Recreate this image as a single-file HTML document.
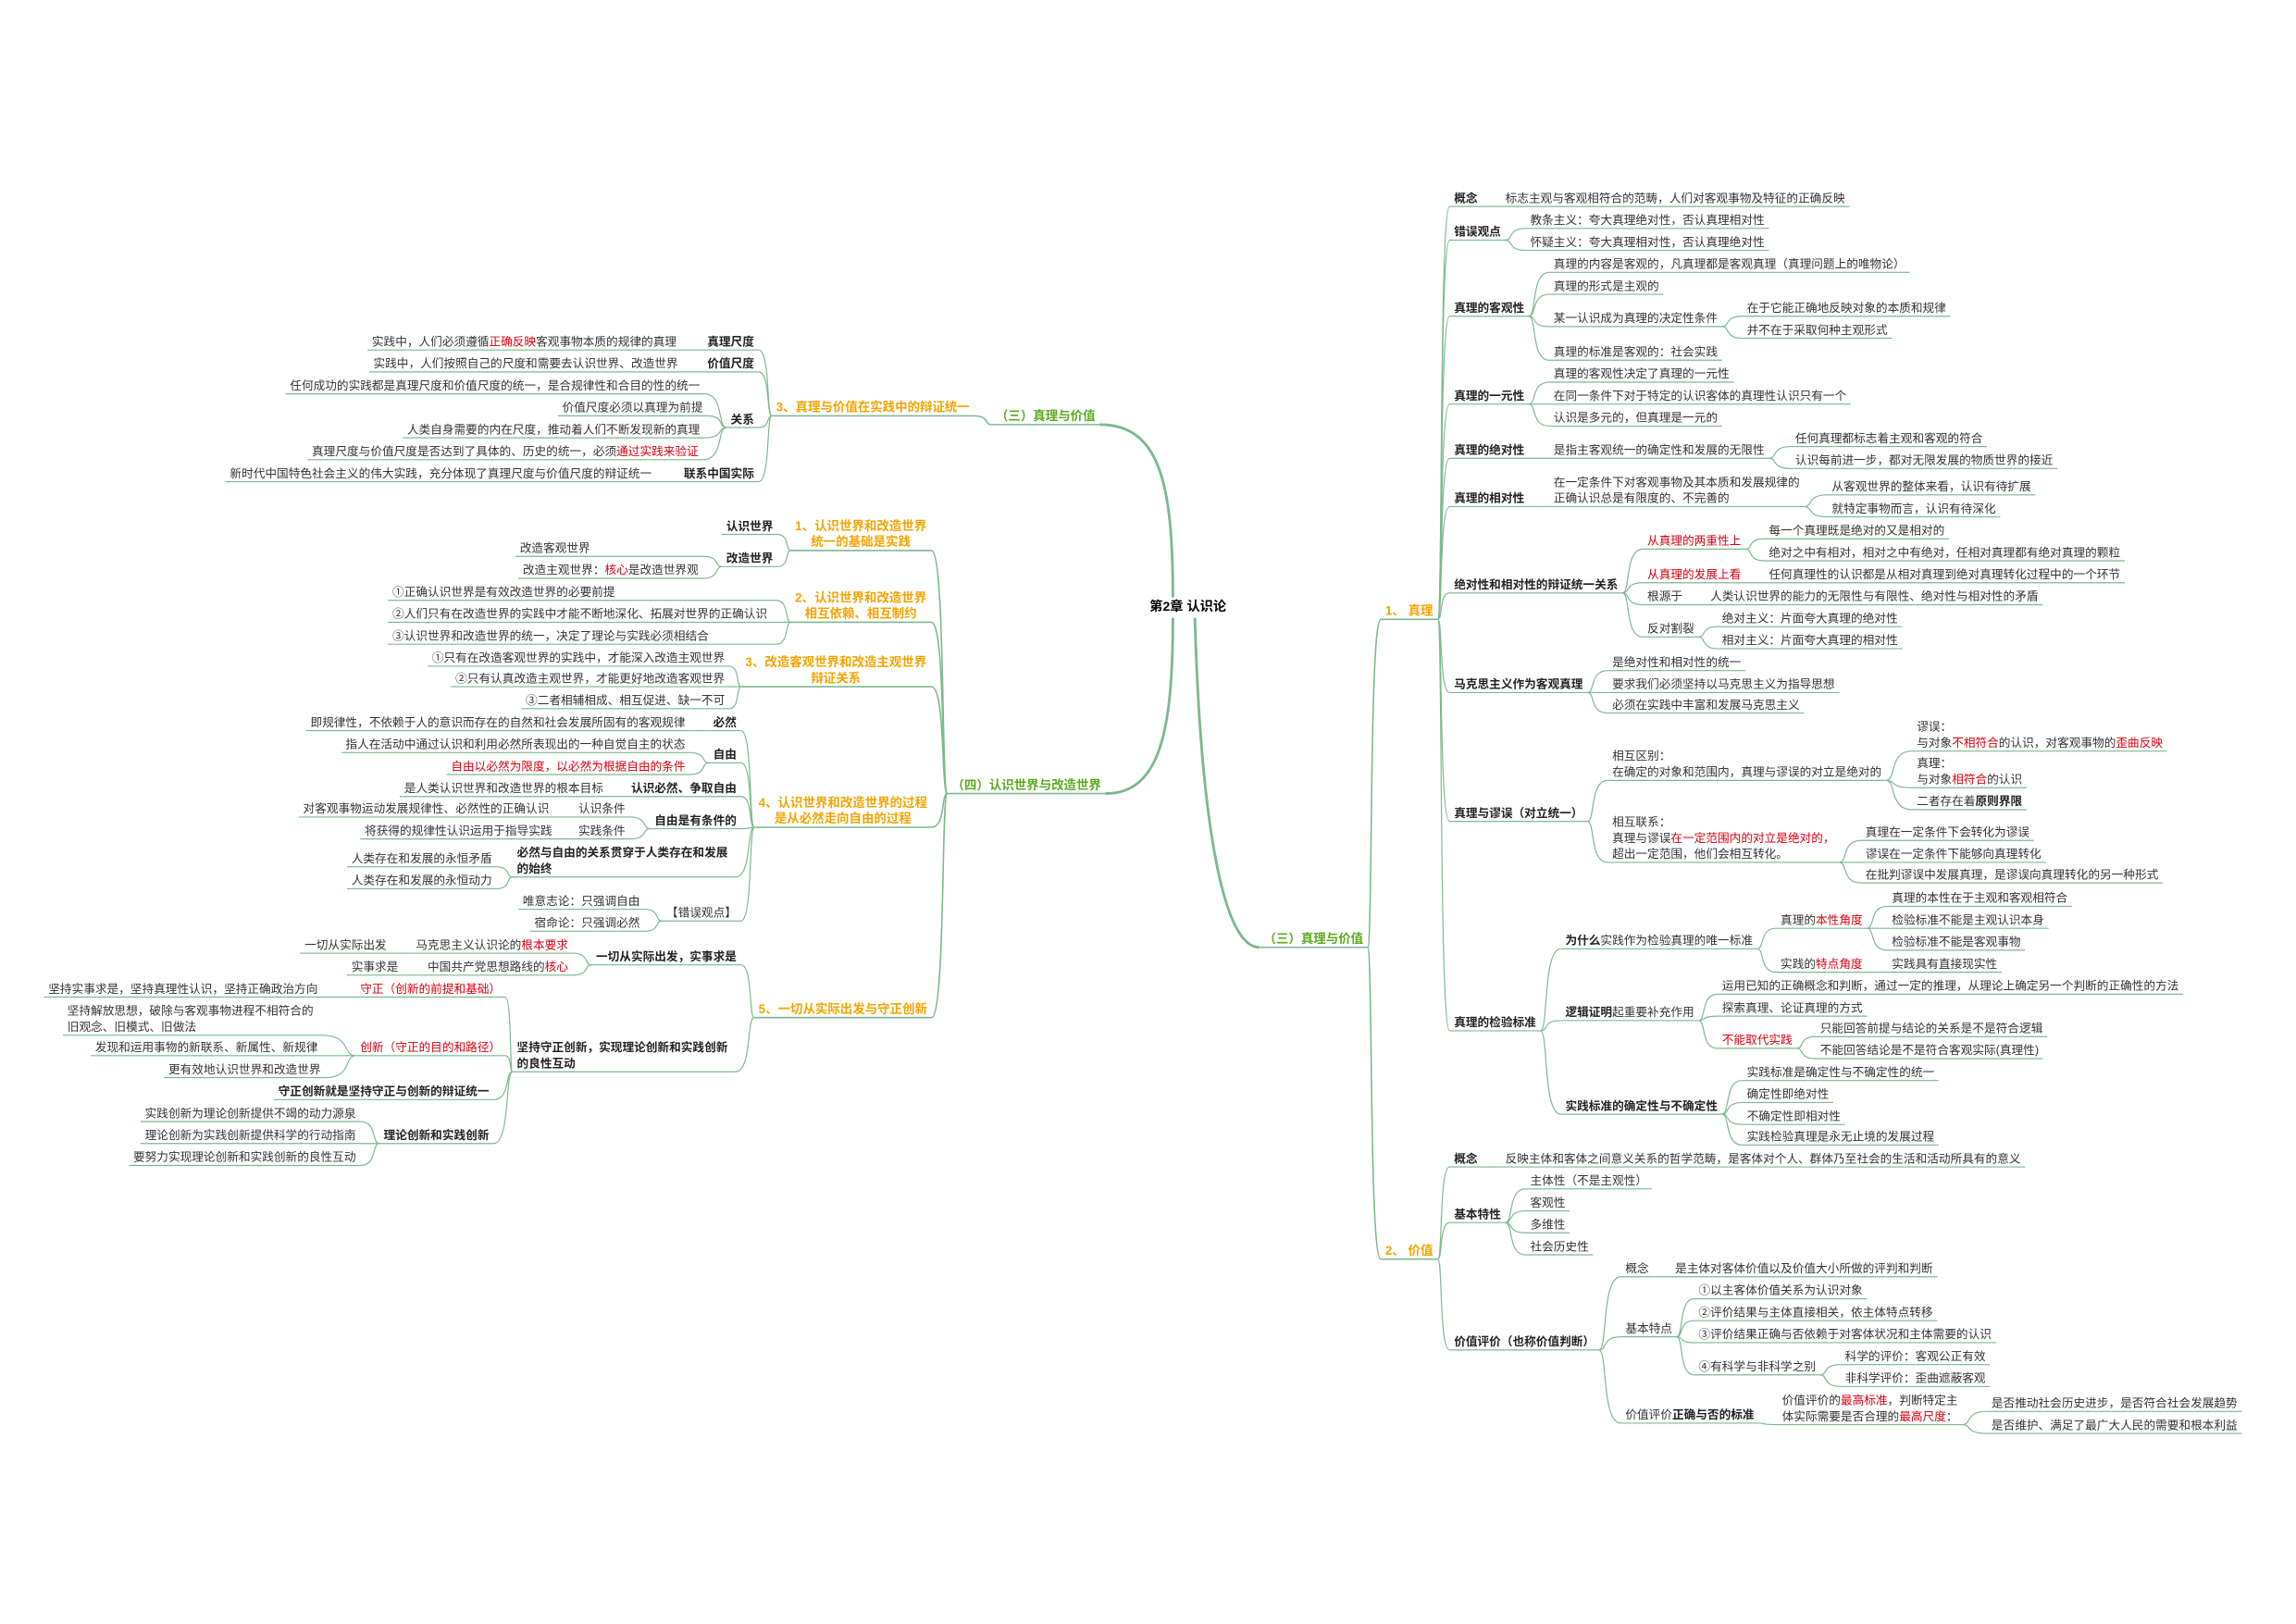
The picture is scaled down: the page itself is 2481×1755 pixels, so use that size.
<!DOCTYPE html>
<html><head><meta charset="utf-8">
<style>
html,body{margin:0;padding:0;background:#fff;}
body{width:2481px;height:1754px;overflow:hidden;position:relative;}
#s{position:absolute;left:0;top:0;width:1568px;height:1109px;transform:scale(1.58227);transform-origin:0 0;}
#s svg{position:absolute;left:0;top:0;overflow:visible;}
.n{position:absolute;white-space:nowrap;font-family:"Liberation Sans","Noto Sans CJK SC",sans-serif;font-size:8px;line-height:11px;color:#333;}
.b{font-weight:700;color:#222;}
.o{font-weight:700;color:#f5a300;font-size:8.5px;}
.g{font-weight:700;color:#5aab1e;font-size:8.5px;}
.c{font-weight:700;color:#000;font-size:9px;}
.ca{text-align:center;}
i{font-style:normal;color:#d9000f;}
em{font-style:normal;font-weight:700;color:#222;}
</style></head><body>
<div id="s"><svg id="sv" width="1568" height="1109"></svg>
<div class="n c" style="left:785px;top:409px;">第2章 认识论</div>
</div>
<script>
var D={},L=[];
function N(k,p,s,x,y,t,c,o){var d={k:k,p:p,s:s,x:x,y:y,t:t,c:c||'',o:o||{}};D[k]=d;L.push(d);}
/* ---------- RIGHT ---------- */
N('R3',null,'r',863,641,'（三）真理与价值','g');
N('T','R3','r',946,417,'1、 真理','o');
N('V','R3','r',946,854,'2、 价值','o');
N('t1','T','r',993,135,'概念','b');
N('t1a','t1','r',1028,135,'标志主观与客观相符合的范畴，人们对客观事物及特征的正确反映');
N('t2','T','r',993,158,'错误观点','b');
N('t2a','t2','r',1045,150,'教条主义：夸大真理绝对性，否认真理相对性');
N('t2b','t2','r',1045,165,'怀疑主义：夸大真理相对性，否认真理绝对性');
N('t3','T','r',993,210,'真理的客观性','b');
N('t3a','t3','r',1061,180,'真理的内容是客观的，凡真理都是客观真理（真理问题上的唯物论）');
N('t3b','t3','r',1061,195,'真理的形式是主观的');
N('t3c','t3','r',1061,217,'某一认识成为真理的决定性条件');
N('t3c1','t3c','r',1193,210,'在于它能正确地反映对象的本质和规律');
N('t3c2','t3c','r',1193,225,'并不在于采取何种主观形式');
N('t3d','t3','r',1061,240,'真理的标准是客观的：社会实践');
N('t4','T','r',993,270,'真理的一元性','b');
N('t4a','t4','r',1061,255,'真理的客观性决定了真理的一元性');
N('t4b','t4','r',1061,270,'在同一条件下对于特定的认识客体的真理性认识只有一个');
N('t4c','t4','r',1061,285,'认识是多元的，但真理是一元的');
N('t5','T','r',993,307,'真理的绝对性','b');
N('t5a','t5','r',1061,307,'是指主客观统一的确定性和发展的无限性');
N('t5a1','t5a','r',1226,299,'任何真理都标志着主观和客观的符合');
N('t5a2','t5a','r',1226,314,'认识每前进一步，都对无限发展的物质世界的接近');
N('t6','T','r',993,340,'真理的相对性','b');
N('t6a','t6','r',1061,329,'在一定条件下对客观事物及其本质和发展规律的<br>正确认识总是有限度的、不完善的','',{n:2});
N('t6a1','t6a','r',1251,332,'从客观世界的整体来看，认识有待扩展');
N('t6a2','t6a','r',1251,347,'就特定事物而言，认识有待深化');
N('t7','T','r',993,399,'绝对性和相对性的辩证统一关系','b');
N('t7a','t7','r',1125,369,'<i>从真理的两重性上</i>');
N('t7a1','t7a','r',1208,362,'每一个真理既是绝对的又是相对的');
N('t7a2','t7a','r',1208,377,'绝对之中有相对，相对之中有绝对，任相对真理都有绝对真理的颗粒');
N('t7b','t7','r',1125,392,'<i>从真理的发展上看</i>');
N('t7b1','t7b','r',1208,392,'任何真理性的认识都是从相对真理到绝对真理转化过程中的一个环节');
N('t7c','t7','r',1125,407,'根源于');
N('t7c1','t7c','r',1168,407,'人类认识世界的能力的无限性与有限性、绝对性与相对性的矛盾');
N('t7d','t7','r',1125,429,'反对割裂');
N('t7d1','t7d','r',1176,422,'绝对主义：片面夸大真理的绝对性');
N('t7d2','t7d','r',1176,437,'相对主义：片面夸大真理的相对性');
N('t8','T','r',993,467,'马克思主义作为客观真理','b');
N('t8a','t8','r',1101,452,'是绝对性和相对性的统一');
N('t8b','t8','r',1101,467,'要求我们必须坚持以马克思主义为指导思想');
N('t8c','t8','r',1101,481,'必须在实践中丰富和发展马克思主义');
N('t9','T','r',993,555,'真理与谬误（对立统一）','b');
N('t9a','t9','r',1101,516,'相互区别：<br>在确定的对象和范围内，真理与谬误的对立是绝对的','',{n:2});
N('t9a1','t9a','r',1309,496,'谬误：<br>与对象<i>不相符合</i>的认识，对客观事物的<i>歪曲反映</i>','',{n:2});
N('t9a2','t9a','r',1309,521,'真理：<br>与对象<i>相符合</i>的认识','',{n:2});
N('t9a3','t9a','r',1309,547,'二者存在着<em>原则界限</em>');
N('t9b','t9','r',1101,561,'相互联系：<br>真理与谬误<i>在一定范围内的对立是绝对的，</i><br>超出一定范围，他们会相互转化。','',{n:3});
N('t9b1','t9b','r',1274,568,'真理在一定条件下会转化为谬误');
N('t9b2','t9b','r',1274,583,'谬误在一定条件下能够向真理转化');
N('t9b3','t9b','r',1274,597,'在批判谬误中发展真理，是谬误向真理转化的另一种形式');
N('t10','T','r',993,698,'真理的检验标准','b');
N('t10a','t10','r',1069,642,'<em>为什么</em>实践作为检验真理的唯一标准');
N('t10a1','t10a','r',1216,628,'真理的<i>本性角度</i>');
N('t10a1a','t10a1','r',1292,613,'真理的本性在于主观和客观相符合');
N('t10a1b','t10a1','r',1292,628,'检验标准不能是主观认识本身');
N('t10a1c','t10a1','r',1292,643,'检验标准不能是客观事物');
N('t10a2','t10a','r',1216,658,'实践的<i>特点角度</i>');
N('t10a2a','t10a2','r',1292,658,'实践具有直接现实性');
N('t10b','t10','r',1069,691,'<em>逻辑证明</em>起重要补充作用');
N('t10b1','t10b','r',1176,673,'运用已知的正确概念和判断，通过一定的推理，从理论上确定另一个判断的正确性的方法');
N('t10b2','t10b','r',1176,688,'探索真理、论证真理的方式');
N('t10b3','t10b','r',1176,710,'<i>不能取代实践</i>');
N('t10b3a','t10b3','r',1243,702,'只能回答前提与结论的关系是不是符合逻辑');
N('t10b3b','t10b3','r',1243,717,'不能回答结论是不是符合客观实际(真理性)');
N('t10c','t10','r',1069,755,'实践标准的确定性与不确定性','b');
N('t10c1','t10c','r',1193,732,'实践标准是确定性与不确定性的统一');
N('t10c2','t10c','r',1193,747,'确定性即绝对性');
N('t10c3','t10c','r',1193,762,'不确定性即相对性');
N('t10c4','t10c','r',1193,776,'实践检验真理是永无止境的发展过程');
N('v1','V','r',993,791,'概念','b');
N('v1a','v1','r',1028,791,'反映主体和客体之间意义关系的哲学范畴，是客体对个人、群体乃至社会的生活和活动所具有的意义');
N('v2','V','r',993,829,'基本特性','b');
N('v2a','v2','r',1045,806,'主体性（不是主观性）');
N('v2b','v2','r',1045,821,'客观性');
N('v2c','v2','r',1045,836,'多维性');
N('v2d','v2','r',1045,851,'社会历史性');
N('v3','V','r',993,916,'价值评价（也称价值判断）','b');
N('v3a','v3','r',1110,866,'概念');
N('v3a1','v3a','r',1144,866,'是主体对客体价值以及价值大小所做的评判和判断');
N('v3b','v3','r',1110,907,'基本特点');
N('v3b1','v3b','r',1160,881,'①以主客体价值关系为认识对象');
N('v3b2','v3b','r',1160,896,'②评价结果与主体直接相关，依主体特点转移');
N('v3b3','v3b','r',1160,911,'③评价结果正确与否依赖于对客体状况和主体需要的认识');
N('v3b4','v3b','r',1160,933,'④有科学与非科学之别');
N('v3b4a','v3b4','r',1260,926,'科学的评价：客观公正有效');
N('v3b4b','v3b4','r',1260,941,'非科学评价：歪曲遮蔽客观');
N('v3c','v3','r',1110,966,'价值评价<em>正确与否的标准</em>');
N('v3c1','v3c','r',1217,956,'价值评价的<i>最高标准</i>，判断特定主<br>体实际需要是否合理的<i>最高尺度</i>：','',{n:2});
N('v3c1a','v3c1','r',1360,958,'是否推动社会历史进步，是否符合社会发展趋势');
N('v3c1b','v3c1','r',1360,973,'是否维护、满足了最广大人民的需要和根本利益');
/* ---------- LEFT ---------- */
N('L3',null,'l',748,284,'（三）真理与价值','g');
N('L3a','L3','l',662,278,'3、真理与价值在实践中的辩证统一','o');
N('a1','L3a','l',515,233,'真理尺度','b');
N('a1a','a1','l',462,233,'实践中，人们必须遵循<i>正确反映</i>客观事物本质的规律的真理');
N('a2','L3a','l',515,248,'价值尺度','b');
N('a2a','a2','l',463,248,'实践中，人们按照自己的尺度和需要去认识世界、改造世界');
N('a3','L3a','l',515,286,'关系','b');
N('a3a','a3','l',478,263,'任何成功的实践都是真理尺度和价值尺度的统一，是合规律性和合目的性的统一');
N('a3b','a3','l',480,278,'价值尺度必须以真理为前提');
N('a3c','a3','l',478,293,'人类自身需要的内在尺度，推动着人们不断发现新的真理');
N('a3d','a3','l',477,308,'真理尺度与价值尺度是否达到了具体的、历史的统一，必须<i>通过实践来验证</i>');
N('a4','L3a','l',515,323,'联系中国实际','b');
N('a4a','a4','l',445,323,'新时代中国特色社会主义的伟大实践，充分体现了真理尺度与价值尺度的辩证统一');
N('L4',null,'l',752,536,'（四）认识世界与改造世界','g');
N('b1','L4','l',633,359,'1、认识世界和改造世界<br>统一的基础是实践','o ca',{n:2});
N('b1a','b1','l',528,359,'认识世界','b');
N('b1b','b1','l',528,381,'改造世界','b');
N('b1b1','b1b','l',477,374,'改造客观世界','',{lx:355});
N('b1b2','b1b','l',477,389,'改造主观世界：<i>核心</i>是改造世界观');
N('b2','L4','l',633,408,'2、认识世界和改造世界<br>相互依赖、相互制约','o ca',{n:2});
N('b2a','b2','l',527,404,'①正确认识世界是有效改造世界的必要前提','',{lx:268});
N('b2b','b2','l',527,419,'②人们只有在改造世界的实践中才能不断地深化、拓展对世界的正确认识','',{lx:268});
N('b2c','b2','l',527,434,'③认识世界和改造世界的统一，决定了理论与实践必须相结合','',{lx:268});
N('b3','L4','l',633,452,'3、改造客观世界和改造主观世界<br>辩证关系','o ca',{n:2});
N('b3a','b3','l',495,449,'①只有在改造客观世界的实践中，才能深入改造主观世界');
N('b3b','b3','l',495,463,'②只有认真改造主观世界，才能更好地改造客观世界');
N('b3c','b3','l',495,478,'③二者相辅相成、相互促进、缺一不可');
N('b4','L4','l',633,548,'4、认识世界和改造世界的过程<br>是从必然走向自由的过程','o ca',{n:2});
N('c1','b4','l',503,493,'必然','b');
N('c1a','c1','l',468,493,'即规律性，不依赖于人的意识而存在的自然和社会发展所固有的客观规律');
N('c2','b4','l',503,515,'自由','b');
N('c2a','c2','l',468,508,'指人在活动中通过认识和利用必然所表现出的一种自觉自主的状态');
N('c2b','c2','l',468,523,'<i>自由以必然为限度，以必然为根据自由的条件</i>');
N('c3','b4','l',503,538,'认识必然、争取自由','b');
N('c3a','c3','l',412,538,'是人类认识世界和改造世界的根本目标');
N('c4','b4','l',503,560,'自由是有条件的','b');
N('c4a','c4','l',427,552,'认识条件');
N('c4a1','c4a','l',375,552,'对客观事物运动发展规律性、必然性的正确认识');
N('c4b','c4','l',427,567,'实践条件');
N('c4b1','c4b','l',377,567,'将获得的规律性认识运用于指导实践');
N('c5','b4','l',499,582,'必然与自由的关系贯穿于人类存在和发展<br>的始终','b',{n:2,lx:353});
N('c5a','c5','l',336,586,'人类存在和发展的永恒矛盾');
N('c5b','c5','l',336,601,'人类存在和发展的永恒动力');
N('c6','b4','l',503,623,'【错误观点】');
N('c6a','c6','l',437,615,'唯意志论：只强调自由');
N('c6b','c6','l',437,630,'宿命论：只强调必然');
N('b5','L4','l',633,689,'5、一切从实际出发与守正创新','o');
N('d1','b5','l',503,653,'一切从实际出发，实事求是','b');
N('d1a','d1','l',388,645,'马克思主义认识论的<i>根本要求</i>');
N('d1a1','d1a','l',264,645,'一切从实际出发');
N('d1b','d1','l',388,660,'中国共产党思想路线的<i>核心</i>');
N('d1b1','d1b','l',272,660,'实事求是');
N('d2','b5','l',499,715,'坚持守正创新，实现理论创新和实践创新<br>的良性互动','b',{n:2,lx:353});
N('d2a','d2','l',342,675,'<i>守正（创新的前提和基础）</i>');
N('d2a1','d2a','l',217,675,'坚持实事求是，坚持真理性认识，坚持正确政治方向');
N('d2b','d2','l',342,715,'<i>创新（守正的目的和路径）</i>');
N('d2b1','d2b','l',216,690,'坚持解放思想，破除与客观事物进程不相符合的<br>旧观念、旧模式、旧做法','',{n:2,lx:46});
N('d2b2','d2b','l',217,715,'发现和运用事物的新联系、新属性、新规律');
N('d2b3','d2b','l',219,730,'更有效地认识世界和改造世界');
N('d2c','d2','l',334,745,'守正创新就是坚持守正与创新的辩证统一','b');
N('d2d','d2','l',334,775,'理论创新和实践创新','b');
N('d2d1','d2d','l',243,760,'实践创新为理论创新提供不竭的动力源泉');
N('d2d2','d2d','l',243,775,'理论创新为实践创新提供科学的行动指南');
N('d2d3','d2d','l',243,790,'要努力实现理论创新和实践创新的良性互动');

var S=document.getElementById('s'),sv=document.getElementById('sv'),NS='http://www.w3.org/2000/svg',COL='#7db88f';
function P(d,w){var p=document.createElementNS(NS,'path');p.setAttribute('d',d);p.setAttribute('fill','none');p.setAttribute('stroke',COL);p.setAttribute('stroke-width',w||0.75);sv.appendChild(p);}
L.forEach(function(d){
  var e=document.createElement('div');e.className='n '+d.c;e.innerHTML=d.t;
  e.style.top=(d.y-5.5)+'px';S.appendChild(e);
  var w=e.offsetWidth,n=d.o.n||1;
  d.uy=d.y+(n-1)*11+6;
  if(d.s=='r'){e.style.left=d.x+'px';d.us=d.x-3;d.ue=d.x+w+3;}
  else{var lx=d.o.lx!==undefined?d.o.lx:d.x-w;e.style.left=lx+'px';d.us=lx-3;d.ue=d.x+3;
    if(d.o.lx!==undefined && d.c.indexOf('ca')<0){} }
});
L.forEach(function(d){
  var mw=(d.c.indexOf('o')>=0||d.c.indexOf('g')>=0)?1:0.75;
  P('M'+d.us+' '+d.uy+'H'+d.ue,mw);
  if(!d.p)return;var q=D[d.p],x1,y1=q.uy,x2,y2=d.uy;
  if(d.s=='r'){x1=q.ue;x2=d.us;}else{x1=q.us;x2=d.ue;}
  var g=x2-x1;
  P('M'+x1+' '+y1+'C'+(x1+g*0.4)+' '+y1+' '+(x1+g*0.1)+' '+y2+' '+x2+' '+y2,mw);
});
var a=D['L3'],b=D['L4'],c=D['R3'];
P('M801 408C801 330 792 '+a.uy+' '+a.ue+' '+a.uy,1.8);
P('M801 422C801 500 792 '+b.uy+' '+b.ue+' '+b.uy,1.8);
P('M816 422C820 560 835 '+c.uy+' '+c.us+' '+c.uy,1.8);
</script>
</body></html>
